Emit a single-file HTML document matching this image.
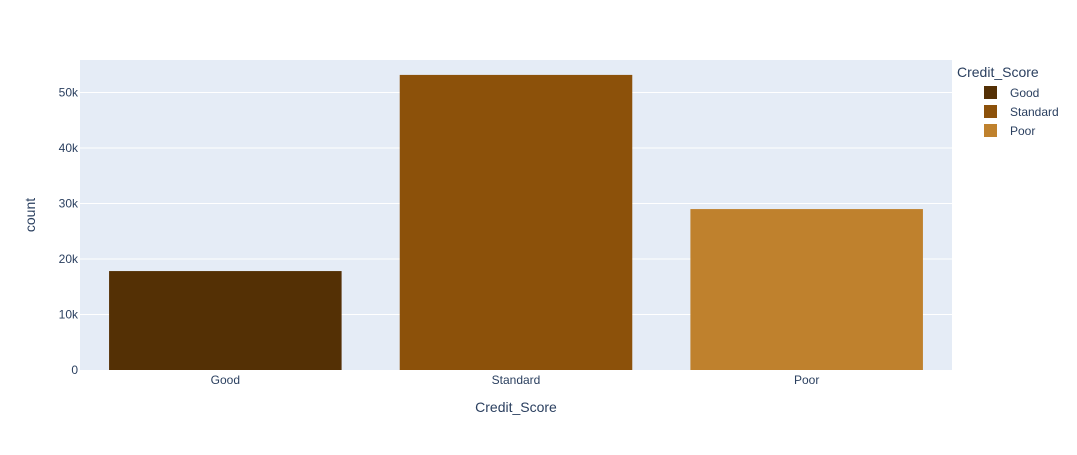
<!DOCTYPE html>
<html><head><meta charset="utf-8"><style>
body{margin:0;background:#fff;font-family:"Liberation Sans",sans-serif;}
</style></head><body>
<svg width="1077" height="450" xmlns="http://www.w3.org/2000/svg">
<rect x="80" y="60" width="872" height="310" fill="#e5ecf6"/>
<g id="grid"></g>
<g id="bars"></g>
<g id="xt" font-size="12" fill="#2a3f5f" text-anchor="middle"></g>
<g id="yt" font-size="12" fill="#2a3f5f" text-anchor="end"></g>
<text x="516" y="412" font-size="14" fill="#2a3f5f" text-anchor="middle">Credit_Score</text>
<text x="35" y="215" font-size="14" fill="#2a3f5f" text-anchor="middle" transform="rotate(-90 35 215)">count</text>
<text x="957" y="77" font-size="14" fill="#2a3f5f">Credit_Score</text>
<g id="legend" font-size="12" fill="#2a3f5f"></g>
</svg>
<script>
const categories=["Good","Standard","Poor"];
const counts=[17828,53174,28998];
const colors=["#543005","#8c510a","#bf812d"];
const yTicks=[0,10000,20000,30000,40000,50000];
const yTickLabels=["0","10k","20k","30k","40k","50k"];
const ns="http://www.w3.org/2000/svg";
const X0=80,W=872,Y0=370,H=310,YMAX=55860;
const y=v=>Y0-v/YMAX*H;
const bw=W/categories.length;
const xc=i=>X0+bw*(i+0.5);
function mk(t,a,p){const e=document.createElementNS(ns,t);for(const k in a)e.setAttribute(k,a[k]);p.appendChild(e);return e;}
const grid=document.getElementById('grid'),yt=document.getElementById('yt');
yTicks.forEach((v,i)=>{
 if(v>0){const l=mk('line',{x1:X0,x2:X0+W,y1:y(v),y2:y(v),stroke:'#fff','stroke-width':1},grid);
 
 }
 const t=mk('text',{x:X0-2,y:y(v)+4},yt);t.textContent=yTickLabels[i];
 
 
});
const bars=document.getElementById('bars'),xt=document.getElementById('xt'),lg=document.getElementById('legend');
categories.forEach((c,i)=>{
 const r=mk('rect',{x:xc(i)-bw*0.4,width:bw*0.8,y:y(counts[i]),height:Y0-y(counts[i]),fill:colors[i]},bars);
 
 
 const t=mk('text',{x:xc(i),y:Y0+14},xt);t.textContent=c;
 
 
 const g=mk('g',{},lg);
 
 
 mk('rect',{x:984,y:86+i*19,width:13,height:13,fill:colors[i]},g);
 const lt=mk('text',{x:1010,y:97+i*19},g);lt.textContent=c;
});
</script>
</body></html>
